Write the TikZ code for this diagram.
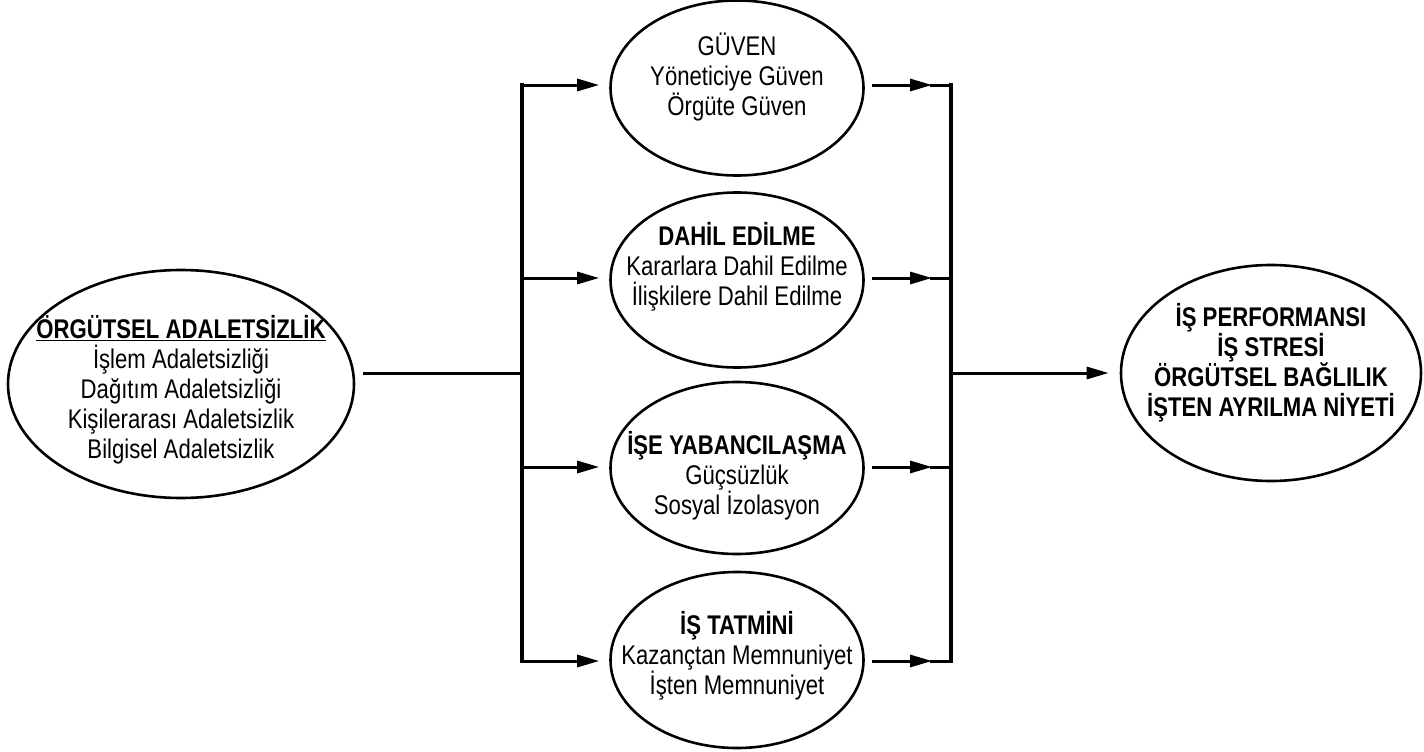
\documentclass[tikz,border=0pt]{standalone}
\usepackage{fontspec}
\setmainfont{Liberation Sans}[FakeStretch=0.82]
\usetikzlibrary{shapes.geometric,arrows.meta}
\begin{document}
\begin{tikzpicture}[x=1pt,y=-1pt,
  oval/.style={draw, ellipse, line width=2.6pt, inner sep=0pt},
  txt/.style={align=center, font=\fontsize{27}{30}\selectfont, inner sep=0pt},
  conn/.style={line width=3pt},
  bus/.style={line width=3.5pt, line cap=rect},
  arr/.style={line width=3pt, -{Triangle[length=22pt,width=12pt]}}]
\useasboundingbox (0,0) rectangle (1424,752);
% ellipses
\node[oval, minimum width=346pt, minimum height=228pt] (L) at (181,384) {};
\node[oval, minimum width=253pt, minimum height=175pt] (G) at (737,88) {};
\node[oval, minimum width=253pt, minimum height=175pt] (D) at (737,280) {};
\node[oval, minimum width=253pt, minimum height=172pt] (Y) at (737,468) {};
\node[oval, minimum width=253pt, minimum height=176pt] (T) at (737,660) {};
\node[oval, minimum width=300pt, minimum height=216pt] (R) at (1271,373) {};
% texts
\node[txt] (Lt) at (181,390) {\underline{\textbf{ÖRGÜTSEL ADALETSİZLİK}}\\İşlem Adaletsizliği\\Dağıtım Adaletsizliği\\Kişilerarası Adaletsizlik\\Bilgisel Adaletsizlik};
\node[txt] (Gt) at (737,77) {GÜVEN\\Yöneticiye Güven\\Örgüte Güven};
\node[txt] (Dt) at (737,267) {\textbf{DAHİL EDİLME}\\Kararlara Dahil Edilme\\İlişkilere Dahil Edilme};
\node[txt] (Yt) at (737,476) {\textbf{İŞE YABANCILAŞMA}\\Güçsüzlük\\Sosyal İzolasyon};
\node[txt] (Tt) at (737,656) {\textbf{İŞ TATMİNİ}\\Kazançtan Memnuniyet\\İşten Memnuniyet};
\node[txt] (Rt) at (1271,363) {\textbf{İŞ PERFORMANSI}\\\textbf{İŞ STRESİ}\\\textbf{ÖRGÜTSEL BAĞLILIK}\\\textbf{İŞTEN AYRILMA NİYETİ}};
% bus coordinates
\coordinate (b1) at (522,85);
\coordinate (b2) at (522,278);
\coordinate (b3) at (522,467);
\coordinate (b4) at (522,661);
\coordinate (bm) at (522,373);
\coordinate (c1) at (951,85);
\coordinate (c2) at (951,278);
\coordinate (c3) at (951,467);
\coordinate (c4) at (951,661);
\coordinate (cm) at (951,373);
% left side
\draw[conn, shorten <=8pt] (L.east |- bm) -- (bm);
\draw[bus] (b1) -- (b4);
\foreach \b/\n in {b1/G, b2/D, b3/Y, b4/T}
  \draw[arr, shorten >=10pt] (\b) -- (\n.west |- \b);
% right side
\foreach \c/\n in {c1/G, c2/D, c3/Y, c4/T}{
  \draw[arr, shorten <=7pt] (\n.east |- \c) -- ([xshift=-19pt]\c);
  \draw[conn] ([xshift=-21pt]\c) -- (\c);
}
\draw[bus] (c1) -- (c4);
\draw[arr, shorten >=11pt] (cm) -- (R.west |- cm);
\end{tikzpicture}
\end{document}
